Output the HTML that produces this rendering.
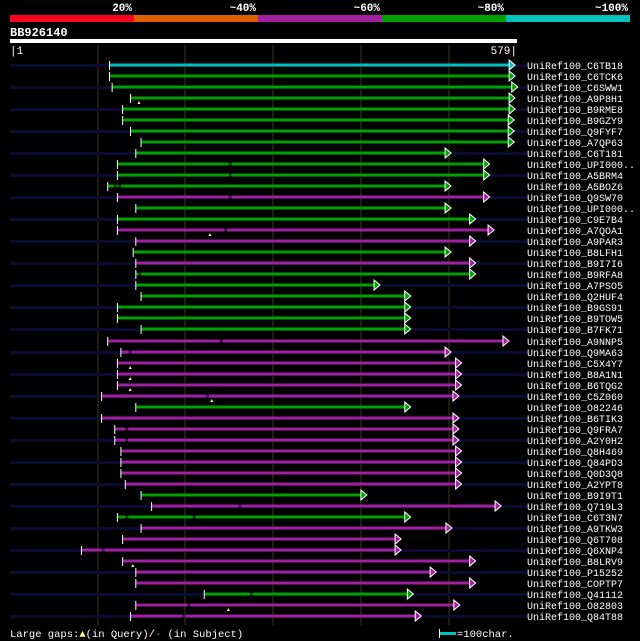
<!DOCTYPE html>
<html><head><meta charset="utf-8"><style>
html,body{margin:0;padding:0;background:#000;}
svg{display:block;font-family:"Liberation Mono","DejaVu Sans Mono",monospace;}
</style></head><body>
<svg id="chart" width="640" height="641" viewBox="0 0 640 641" xmlns="http://www.w3.org/2000/svg">
<rect width="640" height="641" fill="#000"/>
<g id="pctbar"></g>
<text x="10" y="36" fill="#fff" font-size="12" font-weight="bold">BB926140</text>
<rect x="10" y="39" width="507" height="4" fill="#fff"/>
<text x="10" y="54" fill="#fff" font-size="11">|1</text>
<text x="517" y="54" fill="#fff" font-size="11" text-anchor="end">579|</text>
<g id="grid"></g>
<g id="rows"></g>
<g>
<text x="10" y="637" fill="#fff" font-size="10.5">Large gaps:<tspan fill="#ffff80">▲</tspan>(in Query)/<tspan fill="#00c0c0">-</tspan> (in Subject)</text>
<rect x="440" y="632" width="16" height="3" fill="#00c0c0"/>
<rect x="439" y="629" width="1" height="9" fill="#fff"/>
<text x="457" y="637" fill="#fff" font-size="10.5">=100char.</text>
</g>
</svg>
<script>
var NS="http://www.w3.org/2000/svg";
var queryLen=579;
var pctLabels=["20%","~40%","~60%","~80%","~100%"];
var pctColors=["#ff0020","#e06000","#a020a0","#00a000","#00c0c0"];
var gridTicks=[100,200,300,400,500];
var names=["C6TB18","C6TCK6","C6SWW1","A9P8H1","B9RME8","B9GZY9","Q9FYF7","A7QP63","C6T181","UPI000..","A5BRM4","A5BOZ6","Q9SW70","UPI000..","C9E7B4","A7QOA1","A9PAR3","B8LFH1","B9I7I6","B9RFA8","A7PSO5","Q2HUF4","B9GS91","B9TOW5","B7FK71","A9NNP5","Q9MA63","C5X4Y7","B8A1N1","B6TQG2","C5Z060","O82246","B6TIK3","Q9FRA7","A2Y0H2","Q8H469","Q84PD3","Q0D3Q8","A2YPT8","B9I9T1","Q719L3","C6T3N7","A9TKW3","Q6T708","Q6XNP4","B8LRV9","P15252","COPTP7","Q41112","O82803","Q84T88"];
var identClass=[4,3,3,3,3,3,3,3,3,3,3,3,2,3,3,2,2,3,2,3,3,3,3,3,3,2,2,2,2,2,2,3,2,2,2,2,2,2,2,3,2,3,2,2,2,2,2,2,3,2,2];
var starts=[115,115,118,139,130,130,139,151,145,124,124,113,124,145,124,124,145,142,145,145,145,151,124,124,151,113,128,124,124,124,106,145,106,121,121,128,128,128,133,151,163,124,151,130,83,130,145,145,223,145,139];
var ends=[570,570,573,570,570,569,569,569,497,541,541,497,541,497,525,546,525,497,525,525,416,451,451,451,451,563,497,509,509,509,506,451,506,506,506,509,509,509,509,401,554,451,498,440,440,525,480,525,454,507,463];
var gaps=[[],[],[],[],[],[],[],[],[],[252],[252],[121,126],[252],[],[],[247],[],[],[],[149],[],[],[],[],[],[242],[138],[],[],[],[226],[],[],[134],[134],[],[],[],[],[],[263],[134,211],[],[],[107],[],[],[],[276],[205],[199]];
var markers=[[],[],[],[148],[],[],[],[],[],[],[],[],[],[],[],[229],[],[],[],[],[],[],[],[],[],[],[],[138],[138],[138],[231],[],[],[],[],[],[],[],[],[],[],[],[],[],[],[141],[],[],[],[250],[]];

function xScale(r){return 10+(r-1)*507/(queryLen-1);}
function yRow(i){return 65+i*11.02;}
function mk(tag,attrs,parent){var e=document.createElementNS(NS,tag);for(var k in attrs)e.setAttribute(k,attrs[k]);parent.appendChild(e);return e;}

var pb=document.getElementById('pctbar');
for(var i=0;i<pctColors.length;i++){
  var r=mk('rect',{x:10+i*124,y:15,width:124,height:7,fill:pctColors[i]},pb);
  
  
  var t=mk('text',{x:10+(i+1)*124-2,y:11,fill:'#fff','font-size':'11','font-weight':'bold','text-anchor':'end'},pb);
  t.textContent=pctLabels[i];
  
  
}
var gg=document.getElementById('grid');
gridTicks.forEach(function(v,i){
  var l=mk('rect',{x:Math.round(xScale(v+1))-0.5,y:45,width:1,height:580,fill:'#3a3a12'},gg);
  
  
});
var rg=document.getElementById('rows');
for(var i=0;i<names.length;i++){
  var y=Math.round(yRow(i));
  var g=mk('g',{},rg);
  
  
  if(i%2===0){
    var bg=mk('rect',{x:10,y:y-1,width:517,height:3,fill:'#0a0a32'},g);
    
    
  }
  var col=pctColors[identClass[i]];
  var x0=xScale(starts[i]),x1=xScale(ends[i]);
  var segs=[];var cur=x0;
  gaps[i].forEach(function(gp){var gx=xScale(gp);segs.push([cur,gx-1.5]);cur=gx+1.5;});
  segs.push([cur,x1]);
  segs.forEach(function(s){
    var b=mk('rect',{x:s[0],y:y-1.5,width:Math.max(0,s[1]-s[0]),height:3,fill:col},g);
    
    
  });
  gaps[i].forEach(function(gp){
    var gx=xScale(gp);
    var gl=mk('rect',{x:gx-1.5,y:y-0.5,width:3,height:1,fill:col},g);
    
    
  });
  var tk=mk('rect',{x:x0-1,y:y-4,width:1,height:9,fill:'#fff'},g);
  
  
  var ar=mk('polygon',{points:x1+','+(y-5)+' '+(x1+6)+','+y+' '+x1+','+(y+5),fill:col,stroke:'#fff','stroke-width':'1'},g);
  
  
  markers[i].forEach(function(m){
    var mx=xScale(m);
    var mm=mk('polygon',{points:(mx-1.5)+','+(y+6)+' '+mx+','+(y+3)+' '+(mx+1.5)+','+(y+6),fill:'#ffff80'},g);
    
    
  });
  var tx=mk('text',{x:527,y:y+4,fill:'#fff','font-size':'10'},g);
  tx.textContent='UniRef100_'+names[i];
  
  
}
</script>
</body></html>
